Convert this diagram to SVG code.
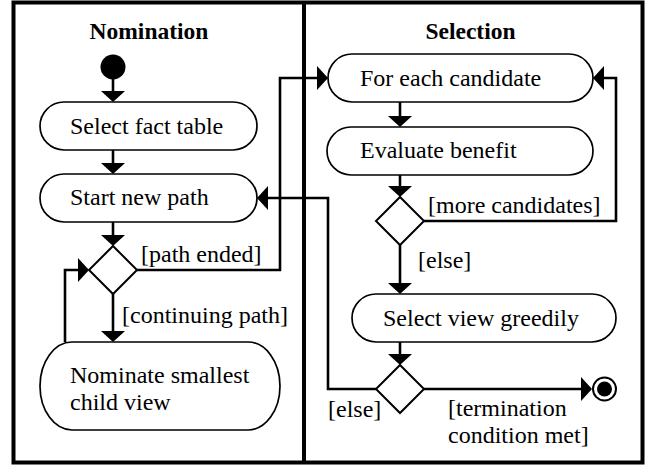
<svg xmlns="http://www.w3.org/2000/svg" width="648" height="467" viewBox="0 0 648 467">
<defs>
<style>
.frame{fill:none;stroke:#000;stroke-width:4}
.pill{fill:#fff;stroke:#000;stroke-width:1.7}
.dia{fill:#fff;stroke:#000;stroke-width:2}
.con{fill:none;stroke:#000;stroke-width:2.6;marker-end:url(#ah)}
.lbl{font-family:"Liberation Serif","Times New Roman",serif;font-size:24px;fill:#000}
.title{font-family:"Liberation Serif","Times New Roman",serif;font-size:23.5px;font-weight:bold;fill:#000;text-anchor:middle}
</style>
<marker id="ah" viewBox="0 0 11 24" refX="6" refY="12" markerWidth="11" markerHeight="24" markerUnits="userSpaceOnUse" orient="auto">
<path d="M0,0 L11,12 L0,24 Z" fill="#000"/>
</marker>
</defs>
<rect x="0" y="0" width="648" height="467" fill="#fff"/>
<g id="lanes">
<rect class="frame" x="13.5" y="2.5" width="629" height="460"/>
<line class="frame" x1="304" y1="2.5" x2="304" y2="462.5"/>
<text class="title" x="149" y="39">Nomination</text>
<text class="title" x="470.5" y="39">Selection</text>
</g>
<g id="connectors">
<path class="con" d="M113,79 V97"/>
<path class="con" d="M113,150 V169"/>
<path class="con" d="M113,222 V241"/>
<path class="con" d="M113,294 V337"/>
<path class="con" d="M65,342 V270 H84"/>
<path class="con" d="M137,270 H280 V78 H323"/>
<path class="con" d="M400,102 V122"/>
<path class="con" d="M400,175 V192"/>
<path class="con" d="M424,221 H616 V78 H598"/>
<path class="con" d="M400,245 V289"/>
<path class="con" d="M400,342 V360"/>
<path class="con" d="M424,389 H587"/>
<path class="con" d="M376,389 H328 V198 H262"/>
</g>
<g id="start">
<circle cx="113" cy="67" r="12.5" fill="#000"/>
</g>
<g id="select-fact-table">
<rect class="pill" x="40" y="102" width="217" height="48" rx="24" ry="24"/>
<text class="lbl" x="70" y="134">Select fact table</text>
</g>
<g id="start-new-path">
<rect class="pill" x="40" y="174" width="217" height="48" rx="24" ry="24"/>
<text class="lbl" x="70" y="205">Start new path</text>
</g>
<g id="decision-path">
<polygon class="dia" points="113,246 137,270 113,294 89,270"/>
<text class="lbl" x="141" y="262">[path ended]</text>
<text class="lbl" x="122" y="323">[continuing path]</text>
</g>
<g id="nominate">
<rect class="pill" x="40" y="342" width="240" height="88" rx="32" ry="44"/>
<text class="lbl" x="70" y="383">Nominate smallest</text>
<text class="lbl" x="70" y="410">child view</text>
</g>
<g id="for-each-candidate">
<rect class="pill" x="328" y="54" width="265" height="48" rx="24" ry="24"/>
<text class="lbl" x="360" y="86">For each candidate</text>
</g>
<g id="evaluate-benefit">
<rect class="pill" x="327" y="127" width="266" height="48" rx="24" ry="24"/>
<text class="lbl" x="360" y="158">Evaluate benefit</text>
</g>
<g id="decision-candidates">
<polygon class="dia" points="400,197 424,221 400,245 376,221"/>
<text class="lbl" x="428" y="213">[more candidates]</text>
<text class="lbl" x="418" y="268">[else]</text>
</g>
<g id="select-view-greedily">
<rect class="pill" x="352" y="294" width="264" height="48" rx="24" ry="24"/>
<text class="lbl" x="383" y="326">Select view greedily</text>
</g>
<g id="decision-termination">
<polygon class="dia" points="400,365 424,389 400,413 376,389"/>
<text class="lbl" x="328" y="417">[else]</text>
<text class="lbl" x="448" y="416">[termination</text>
<text class="lbl" x="448" y="443">condition met]</text>
</g>
<g id="end">
<circle cx="604.5" cy="389" r="11.5" fill="#fff" stroke="#000" stroke-width="2"/>
<circle cx="604.5" cy="389" r="7.5" fill="#000"/>
</g>
</svg>
